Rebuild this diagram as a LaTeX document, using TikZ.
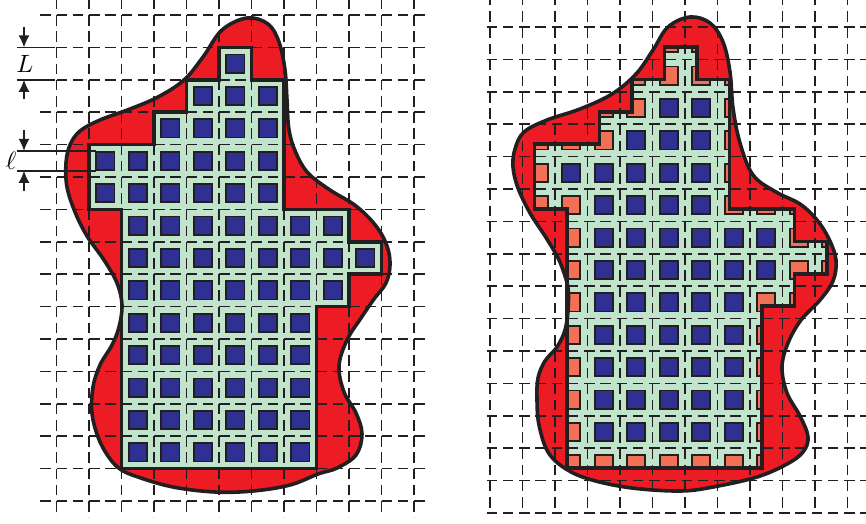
\documentclass[tikz,border=0pt]{standalone}
\usetikzlibrary{arrows.meta}
\definecolor{rd}{RGB}{237,28,36}
\definecolor{gr}{RGB}{193,228,204}
\definecolor{bl}{RGB}{46,49,146}
\definecolor{sal}{RGB}{242,112,86}
\definecolor{ink}{RGB}{35,31,32}
\tikzset{
  gridH/.style={draw=ink, line width=1.5pt, dash pattern=on 10.5pt off 5.75pt},
  gridV/.style={draw=ink, line width=1.5pt, dash pattern=on 10.5pt off 5.7pt},
  blobline/.style={draw=ink, line width=3.6pt, line join=round},
  stairline/.style={draw=ink, line width=3.5pt, line join=miter},
  bluesq/.style={fill=bl, draw=ink, line width=1.8pt},
  salsq/.style={fill=sal, draw=ink, line width=1.8pt},
  dimline/.style={draw=ink, line width=1.4pt},
  dimarrow/.style={draw=ink, line width=1.4pt, -{Latex[length=12pt,width=11pt]}},
  lab/.style={inner sep=0pt},
  stairpath/.style={insert path={(5,1) -- (6,1) -- (6,2) -- (7,2) -- (7,6) -- (9,6) -- (9,7) -- (10,7) -- (10,8) -- (9,8) -- (9,9) -- (8,9) -- (8,14) -- (2,14) -- (2,6) -- (1,6) -- (1,4) -- (3,4) -- (3,3) -- (4,3) -- (4,2) -- (5,2) -- cycle}},
  blobLpath/.style={insert path={plot[smooth cycle, tension=0.6] coordinates {
    (247,18) (268,24) (279,42) (285,70) (287,100) (289,130) (296,153) (308,173)
    (330,190) (356,206) (376,226) (387,246) (390,265) (386,283) (374,299) (361,318)
    (347,340) (339,366) (344,392) (356,413) (362,434) (356,455) (337,468) (318,474)
    (290,485) (253,491) (215,492) (173,487) (138,477) (120,469) (108,456) (98,437)
    (92,413) (93,387) (100,365) (112,345) (119,327) (122,305) (117,283) (104,260)
    (87,236) (75,212) (67,187) (66,163) (70,145) (80,131) (100,120) (130,109)
    (158,97) (184,80) (203,57) (222,30)}}},
  blobRpath/.style={insert path={plot[smooth cycle, tension=0.6] coordinates {
    (690,17) (710,23) (723,42) (730,72) (733,108) (740,143) (753,175) (776,192)
    (800,204) (817,220) (829,239) (836,260) (833,281) (820,300) (801,320) (788,343)
    (782,367) (787,393) (800,416) (808,437) (803,452) (787,464) (757,477) (713,487)
    (680,491) (632,488) (592,480) (566,469) (548,452) (539,425) (537,400) (538,378)
    (545,361) (557,347) (565,330) (568,310) (568,288) (563,270) (557,256) (545,236)
    (530,213) (518,188) (513,167) (515,149) (524,132) (547,120) (580,109) (612,94)
    (636,74) (653,50) (668,27)}}}
}
\begin{document}
\begin{tikzpicture}[x=1pt,y=-1pt]
\useasboundingbox (0,0) rectangle (866,523);
% ---------------- left panel ----------------
\fill[rd, blobLpath];
\begin{scope}[shift={(56.7pt,-15pt)}, x=32.5pt, y=-32.4pt]
  \fill[gr, stairpath];
  \foreach \i in {0,...,11} \draw[gridV] (\i,-0.5) -- (\i,15.5);
  \foreach \j in {0,...,15} \draw[gridH] (-0.5,\j) -- (11.32,\j);
  \foreach \b/\lo/\hi in {1/5/5, 2/4/6, 3/3/6, 4/1/6, 5/1/6, 6/2/8, 7/2/9, 8/2/8, 9/2/7, 10/2/7, 11/2/7, 12/2/7, 13/2/7}
    \foreach \a in {\lo,...,\hi}
      \draw[bluesq] (\a+0.22,\b+0.22) rectangle (\a+0.78,\b+0.78);
  \draw[stairline, stairpath];
\end{scope}
\draw[blobline, blobLpath];
% dimension marks
\coordinate (LlineA0) at (17,47.4);  \coordinate (LlineA1) at (55,47.4);
\coordinate (LlineB0) at (17,79.8);  \coordinate (LlineB1) at (55,79.8);
\coordinate (llineA0) at (17,150.8); \coordinate (llineA1) at (95.5,150.8);
\coordinate (llineB0) at (17,170.8); \coordinate (llineB1) at (95.5,170.8);
\draw[dimline] (LlineA0) -- (LlineA1);
\draw[dimline] (LlineB0) -- (LlineB1);
\draw[dimline] (llineA0) -- (llineA1);
\draw[dimline] (llineB0) -- (llineB1);
\coordinate (LarrA) at (24,27);   \coordinate (LtipA) at (24,47.4);
\coordinate (LarrB) at (24,99);   \coordinate (LtipB) at (24,79.8);
\coordinate (larrA) at (24,130);  \coordinate (ltipA) at (24,150.8);
\coordinate (larrB) at (24,191);  \coordinate (ltipB) at (24,170.8);
\draw[dimarrow] (LarrA) -- (LtipA);
\draw[dimarrow] (LarrB) -- (LtipB);
\draw[dimarrow] (larrA) -- (ltipA);
\draw[dimarrow] (larrB) -- (ltipB);
\node[lab] (labL) at (25,64) {\scalebox{2.5}{$L$}};
\node[lab] (labl) at (11,161) {\scalebox{2.5}{$\ell$}};
% ---------------- right panel ----------------
\fill[rd, blobRpath];
\begin{scope}[shift={(490pt,-27pt)}, x=32.5pt, y=-32.4pt]
  \fill[gr, shift={(0.369,-0.383)}, stairpath];
  \foreach \i in {0,...,11} \draw[gridV] (\i,{0.3/32.4-1}) -- (\i,15.006);
  \foreach \j in {0,...,15} \draw[gridH] ({-3.5/32.5},\j) -- (11.7,\j);
  \begin{scope}
    \path[clip, shift={(0.369,-0.383)}, stairpath];
    \foreach \a in {0,...,10}
      \foreach \b in {0,...,13}
        \draw[salsq] (\a+0.22,\b+0.22) rectangle (\a+0.78,\b+0.78);
  \end{scope}
  \foreach \b/\lo/\hi in {2/5/6, 3/4/6, 4/2/6, 5/3/6, 6/3/8, 7/3/8, 8/3/7, 9/3/7, 10/3/7, 11/3/7, 12/3/7}
    \foreach \a in {\lo,...,\hi}
      \draw[bluesq] (\a+0.22,\b+0.22) rectangle (\a+0.78,\b+0.78);
  \draw[stairline, shift={(0.369,-0.383)}, stairpath];
\end{scope}
\draw[blobline, blobRpath];
\end{tikzpicture}
\end{document}
